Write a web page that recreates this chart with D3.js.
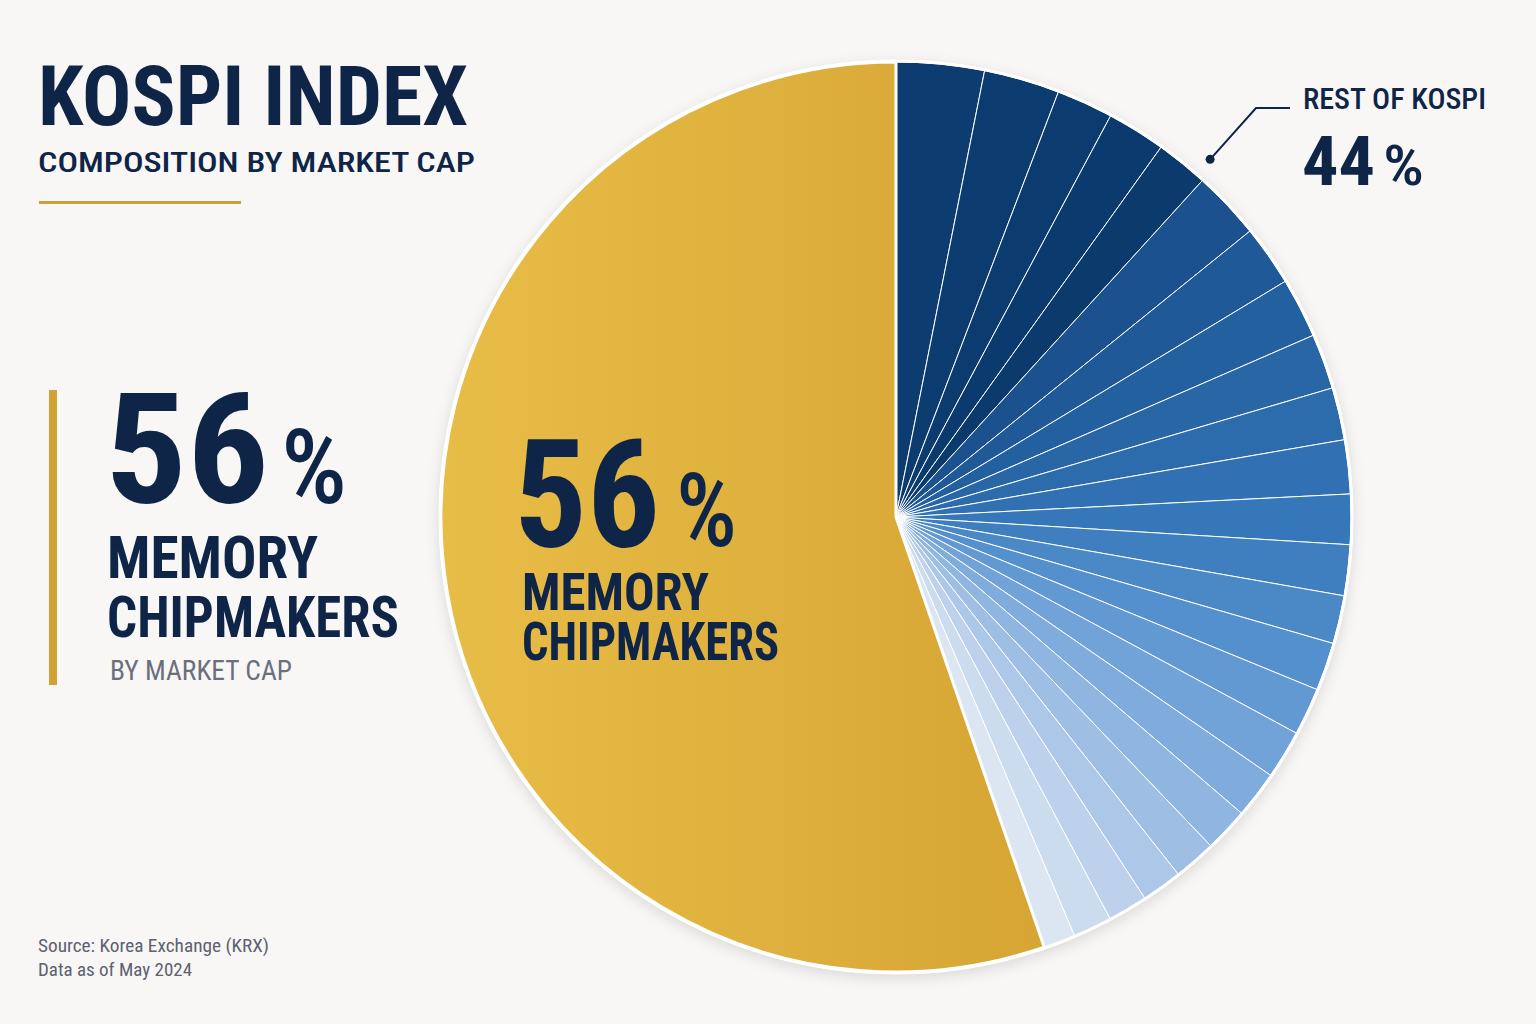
<!DOCTYPE html>
<html>
<head>
<meta charset="utf-8">
<script src="https://cdn.jsdelivr.net/npm/d3@7"></script>
<style>
  html, body { margin: 0; padding: 0; background: #f8f7f5; }
  svg { display: block; }
  text { font-family: "Roboto Condensed", "Liberation Sans Narrow", "DejaVu Sans Condensed", Roboto, sans-serif; font-stretch: condensed; }
</style>
</head>
<body>
<svg id="chart"></svg>
<script>
// DATA
const memoryShare = 55.3
const restShares = [3.12, 2.69, 2.01, 2.08, 1.86, 2.43, 2.15, 2.13, 1.96, 1.86, 1.91, 1.78,
  1.80, 1.71, 1.71, 1.69, 1.73, 1.67, 1.57, 1.51, 1.44, 1.41, 1.38, 1.13]
const restNames = restShares.map((_, i) => 'Other ' + (i + 1))
const titleText = 'KOSPI INDEX'
const subtitleText = 'COMPOSITION BY MARKET CAP'
const memoryLabel = ['MEMORY', 'CHIPMAKERS']
const memoryPct = '56'
const restPct = '44'
const sourceLines = ['Source: Korea Exchange (KRX)', 'Data as of May 2024']

const width = 1536, height = 1024
const navy = '#0f2548'
const svg = d3.select('#chart').attr('width', width).attr('height', height)
svg.append('rect').attr('width', width).attr('height', height).attr('fill', '#f8f7f5')

const defs = svg.append('defs')
const gold = defs.append('linearGradient').attr('id', 'gold')
  .attr('x1', '0%').attr('x2', '100%').attr('y1', '0%').attr('y2', '0%')
gold.append('stop').attr('offset', '0%').attr('stop-color', '#e8bd47')
gold.append('stop').attr('offset', '100%').attr('stop-color', '#d6a534')
const shadow = defs.append('filter').attr('id', 'shadow')
  .attr('x', '-10%').attr('y', '-10%').attr('width', '120%').attr('height', '120%')
shadow.append('feDropShadow').attr('dx', 0).attr('dy', 4).attr('stdDeviation', 7)
  .attr('flood-color', '#000').attr('flood-opacity', 0.13)

// PIE
const cx = 896, cy = 517, radius = 455
const slices = restShares.map((v, i) => ({ key: restNames[i], value: v, memory: false }))
  .concat([{ key: 'Memory chipmakers', value: memoryShare, memory: true }])
const pie = d3.pie().sort(null).value(d => d.value)
const arcs = pie(slices)
const arc = d3.arc().innerRadius(0).outerRadius(radius)
const blue = d3.scaleLinear()
  .domain([0, 4, 5, 7, 11, 14, 17, 20, 23])
  .range(['#0c3c70', '#0b3b6d', '#1a518e', '#2360a0', '#3577b9', '#5490cd', '#80acdd', '#adc7e8', '#dce6f3'])
  .interpolate(d3.interpolateRgb)

const g = svg.append('g').attr('transform', `translate(${cx},${cy})`)
g.append('circle').attr('r', radius + 2).attr('fill', '#fff').attr('filter', 'url(#shadow)')
g.selectAll('.slice')
  .data(arcs)
  .join('path')
  .attr('class', 'slice')
  .attr('d', arc)
  .attr('fill', (d, i) => d.data.memory ? 'url(#gold)' : blue(i))
  .attr('stroke', '#fff')
  .attr('stroke-width', 1)
// thicker white edge around the gold slice
g.selectAll('.slice').filter(d => d.data.memory)
  .attr('stroke-width', 3).attr('stroke-linejoin', 'round').raise()
g.append('circle').attr('r', radius + 1).attr('fill', 'none').attr('stroke', '#fff').attr('stroke-width', 3)

// text helper, forcing widths
function label (x, y, str, size, w, opts = {}) {
  const t = svg.append('text')
    .attr('x', x).attr('y', y)
    .attr('font-size', size)
    .attr('font-weight', opts.weight || 700)
    .attr('fill', opts.fill || navy)
    .text(str)
  if (w) t.attr('textLength', w).attr('lengthAdjust', 'spacingAndGlyphs')
  return t
}

// TITLE
label(38, 125, titleText, 84, 430)
label(38, 172, subtitleText, 28, 437, { weight: 500 })
svg.append('rect').attr('x', 39).attr('y', 201).attr('width', 202).attr('height', 3).attr('fill', '#c9a233')

// LEFT CALLOUT
svg.append('rect').attr('x', 49).attr('y', 390).attr('width', 8).attr('height', 295).attr('fill', '#cfa233')
label(105, 503, memoryPct, 154, 164)
label(281, 503, '%', 104, 66, { weight: 500 })
label(107, 578, memoryLabel[0], 59, 211)
label(107, 637, memoryLabel[1], 58, 292)
label(110, 680, 'BY MARKET CAP', 28, 182, { weight: 400, fill: '#6b6f7c' })

// IN-PIE LABEL
label(514, 547, memoryPct, 150, 146)
label(676, 546, '%', 102, 61, { weight: 500 })
label(522, 610, memoryLabel[0], 52, 187)
label(522, 660, memoryLabel[1], 53, 257)

// REST OF KOSPI
const angleRest = arcs[4].endAngle - 0.018
const dotR = radius + 21
const dot = [cx + dotR * Math.sin(angleRest), cy - dotR * Math.cos(angleRest)]
svg.append('path')
  .attr('d', d3.line()([dot, [1256, 108], [1290, 108]]))
  .attr('fill', 'none').attr('stroke', navy).attr('stroke-width', 2)
svg.append('circle').attr('cx', dot[0]).attr('cy', dot[1]).attr('r', 4.5).attr('fill', navy)
label(1303, 109, 'REST OF KOSPI', 30, 183, { weight: 500 })
label(1302, 185, restPct, 68, 73)
label(1383, 185, '%', 56, 41, { weight: 500 })

// SOURCE
sourceLines.forEach((s, i) => {
  label(38, 952 + i * 24, s, 18, i === 0 ? 231 : 154, { weight: 400, fill: '#5d6170' })
})
</script>
</body>
</html>
